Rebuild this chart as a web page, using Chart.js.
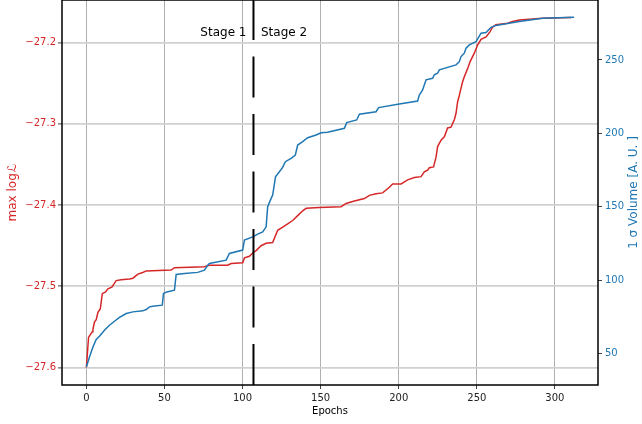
<!DOCTYPE html>
<html><head><meta charset="utf-8">
<script src="https://cdn.jsdelivr.net/npm/chart.js@4/dist/chart.umd.min.js"></script>
<style>html,body{margin:0;padding:0;background:#fff;} canvas{display:block;}</style>
</head><body>
<canvas id="c" width="642" height="424" style="width:642px;height:424px"></canvas>
<script>
const redEpochs = [0,1.4,2.0,3.8,4.2,5.2,6.3,7.4,8.9,10.2,12.3,13.8,16.3,19.1,22.3,27.6,29.8,33.0,36.1,38.3,54.3,56.4,75.6,78.8,90.5,92.7,100.1,101.2,104.4,106.5,108.7,111.9,115.1,119.3,122.5,125.7,128.9,132.1,135.3,138.5,140.7,149.2,163.1,166.3,171.6,178.0,181.2,185.5,189.7,194.0,196.1,201.5,205.7,210.0,214.3,216.4,218.5,219.6,222.3,223.9,224.9,227.1,229.2,231.3,233.5,235.6,236.7,237.7,238.8,240.9,242.0,244.1,245.8,248.4,250.5,252.7,255.9,258.3,260.1,262.2,269.7,272.9,277.2,292.1,310.4];
const redValues = [-27.600,-27.563,-27.561,-27.556,-27.553,-27.544,-27.541,-27.532,-27.528,-27.509,-27.507,-27.503,-27.501,-27.493,-27.492,-27.491,-27.490,-27.485,-27.483,-27.481,-27.480,-27.477,-27.476,-27.474,-27.474,-27.472,-27.471,-27.465,-27.463,-27.459,-27.456,-27.450,-27.447,-27.446,-27.431,-27.427,-27.423,-27.419,-27.413,-27.407,-27.404,-27.403,-27.402,-27.398,-27.395,-27.392,-27.388,-27.386,-27.385,-27.378,-27.374,-27.374,-27.369,-27.366,-27.365,-27.359,-27.357,-27.354,-27.353,-27.341,-27.328,-27.320,-27.316,-27.305,-27.304,-27.295,-27.287,-27.273,-27.265,-27.248,-27.242,-27.232,-27.223,-27.213,-27.203,-27.196,-27.193,-27.187,-27.181,-27.178,-27.176,-27.174,-27.172,-27.170,-27.169];
const blueEpochs = [0,2.0,4.2,6.3,8.4,11.6,14.8,18.0,21.2,25.5,29.8,36.1,38.3,40.4,42.5,48.6,49.4,51.5,56.4,57.5,62.8,71.3,75.6,77.7,78.8,89.5,91.6,100.1,101.2,106.5,109.7,112.9,115.1,116.1,118.3,119.3,121.1,123.6,125.7,127.4,131.1,133.8,135.3,138.5,141.7,147.1,150.3,154.5,165.2,166.7,173.1,174.8,185.5,187.1,200.4,212.1,213.2,215.3,217.5,221.7,222.8,224.9,226.0,236.7,238.8,239.9,242.0,243.1,245.2,249.5,252.7,255.9,259.1,262.2,277.2,292.1,312.3];
const blueValues = [40.9,47.7,54.5,59.6,61.8,65.9,69.3,72.0,74.6,77.3,78.4,79.1,80.0,81.8,82.3,83.0,90.9,92.0,93.2,103.9,104.6,105.3,106.8,110.2,111.4,113.6,118.2,120.5,127.3,129.5,131.4,132.9,136.3,150.0,155.7,158.0,170.4,173.8,176.8,180.7,183.0,185.2,192.0,194.3,197.0,198.9,200.4,200.7,203.4,207.3,209.1,213.0,214.7,217.5,220.0,222.0,226.1,229.5,236.4,237.5,239.8,240.9,243.2,246.6,248.8,252.3,254.6,258.0,260.2,262.5,268.2,268.6,272.2,273.5,276.1,278.4,279.1];
const xTicks = [0,50,100,150,200,250,300];
const leftTicks = [-27.6,-27.5,-27.4,-27.3,-27.2];
const rightTicks = [50,100,150,200,250];
const stageEpoch = 107;
const stageLabels = ['Stage 1','Stage 2'];
const xRange = [-15.6, 327.6];
const leftRange = [-27.6215, -27.1475];
const rightRange = [28.6, 290.8];
const xTitle = 'Epochs';
const leftTitle = ['max log', '\u2112'];
const rightTitle = '1 \u03c3 Volume [A. U. ]';

const RED = '#d62728', BLUE = '#1f77b4';
const FAMILY = '"DejaVu Sans", sans-serif';

function pts(xs, ys) { return xs.map((x, i) => ({x: x, y: ys[i]})); }
function setTicks(arr) { return s => { s.ticks = arr.map(v => ({value: v})); }; }
function fitter(prop, size) {
  return s => {
    s[prop] = size;
    s.paddingTop = 0; s.paddingBottom = 0; s.paddingLeft = 0; s.paddingRight = 0;
  };
}

const overlay = {
  id: 'overlay',
  afterDraw(chart) {
    const ctx = chart.ctx, a = chart.chartArea, sx = chart.scales.x;
    ctx.save();
    ctx.strokeStyle = '#000';
    ctx.lineWidth = 1.5;
    ctx.strokeRect(a.left, a.top, a.right - a.left, a.bottom - a.top);

    const xs = sx.getPixelForValue(stageEpoch);
    ctx.font = '12px ' + FAMILY;
    ctx.fillStyle = '#000';
    ctx.textBaseline = 'alphabetic';
    ctx.textAlign = 'right';
    ctx.fillText(stageLabels[0], xs - 7, a.top + 36);
    ctx.textAlign = 'left';
    ctx.fillText(stageLabels[1], xs + 7.5, a.top + 36);

    ctx.font = '10px ' + FAMILY;
    ctx.textAlign = 'center';
    ctx.textBaseline = 'middle';
    ctx.fillStyle = '#000';
    ctx.fillText(xTitle, (a.left + a.right) / 2, 411);

    const yc = (a.top + a.bottom) / 2;
    ctx.save();
    ctx.translate(13, yc);
    ctx.rotate(-Math.PI / 2);
    ctx.fillStyle = RED;
    ctx.textBaseline = 'middle';
    ctx.textAlign = 'left';
    ctx.font = '12px ' + FAMILY;
    const w1 = ctx.measureText(leftTitle[0]).width;
    ctx.font = 'italic 12px ' + FAMILY;
    const w2 = ctx.measureText(leftTitle[1]).width;
    const start = -(w1 + w2 + 1) / 2;
    ctx.font = '12px ' + FAMILY;
    ctx.fillText(leftTitle[0], start, 0);
    ctx.font = 'italic 12px ' + FAMILY;
    ctx.fillText(leftTitle[1], start + w1 + 1, 0);
    ctx.restore();

    ctx.save();
    ctx.translate(634, yc);
    ctx.rotate(-Math.PI / 2);
    ctx.fillStyle = BLUE;
    ctx.textBaseline = 'middle';
    ctx.textAlign = 'center';
    ctx.font = '12px ' + FAMILY;
    ctx.fillText(rightTitle, 0, 0);
    ctx.restore();

    ctx.restore();
  }
};

new Chart(document.getElementById('c'), {
  type: 'line',
  data: {
    datasets: [
      {label: 'stage', data: [{x: stageEpoch, y: leftRange[0]}, {x: stageEpoch, y: leftRange[1]}],
       yAxisID: 'y', borderColor: '#000', borderWidth: 2, borderDash: [41, 16.5], order: 0, pointRadius: 0, fill: false},
      {label: 'volume', data: pts(blueEpochs, blueValues), yAxisID: 'y1',
       borderColor: BLUE, borderWidth: 1.5, order: 1, pointRadius: 0, fill: false, tension: 0},
      {label: 'logL', data: pts(redEpochs, redValues), yAxisID: 'y',
       borderColor: RED, borderWidth: 1.5, order: 2, pointRadius: 0, fill: false, tension: 0}
    ]
  },
  options: {
    responsive: false,
    animation: false,
    devicePixelRatio: 1,
    layout: {padding: 0},
    plugins: {legend: {display: false}, tooltip: {enabled: false}},
    scales: {
      x: {
        type: 'linear', min: xRange[0], max: xRange[1],
        afterBuildTicks: setTicks(xTicks),
        afterFit: fitter('height', 39),
        grid: {color: '#b0b0b0', lineWidth: 1, tickColor: '#444', tickWidth: 1, tickLength: 4, drawTicks: true},
        border: {display: false},
        ticks: {color: '#222', font: {family: FAMILY, size: 10}, padding: 3, maxRotation: 0, autoSkip: false}
      },
      y: {
        type: 'linear', position: 'left', min: leftRange[0], max: leftRange[1],
        afterBuildTicks: setTicks(leftTicks),
        afterFit: fitter('width', 62),
        grid: {color: '#d0d0d0', lineWidth: 1.8, tickColor: '#444', tickWidth: 1, tickLength: 4},
        border: {display: false},
        ticks: {color: RED, font: {family: FAMILY, size: 10}, padding: 2,
                callback: v => v.toFixed(1).replace('-', '\u2212')}
      },
      y1: {
        type: 'linear', position: 'right', min: rightRange[0], max: rightRange[1],
        afterBuildTicks: setTicks(rightTicks),
        afterFit: fitter('width', 44),
        grid: {drawOnChartArea: false, tickColor: '#444', tickWidth: 1, tickLength: 4},
        border: {display: false},
        ticks: {color: BLUE, font: {family: FAMILY, size: 10}, padding: 3, callback: v => String(v)}
      }
    }
  },
  plugins: [overlay]
});
</script>
</body></html>
